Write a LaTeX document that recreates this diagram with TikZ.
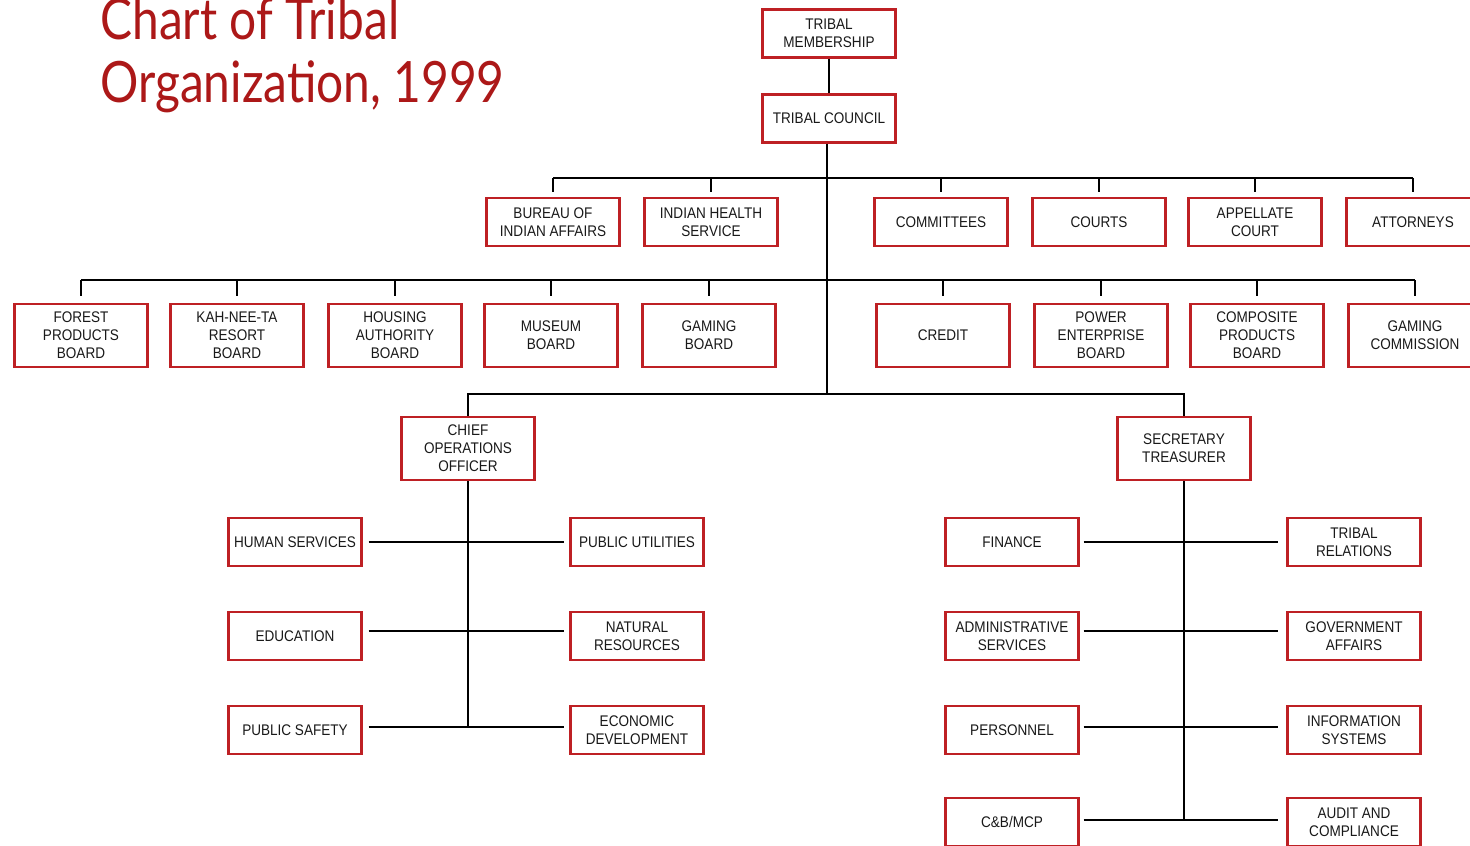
\documentclass[tikz,border=0pt]{standalone}
\usepackage{fontspec}
\setmainfont{Liberation Sans}[FakeStretch = 0.88]
\newfontfamily\titlefont{Lato}[FakeStretch = 0.84]
\definecolor{boxred}{RGB}{190,32,36}
\definecolor{titlered}{RGB}{172,24,24}

\begin{document}
\begin{tikzpicture} [x = 0.5pt, y = -0.5pt,
  unit/.style = {draw = boxred, line width = 1.2pt, fill = white, align = center, inner sep = 0pt,
    minimum width = 66.5pt, minimum height = 24pt, font = \fontsize{7.7}{9}\selectfont, text = black!90},
  tall/.style = {unit, minimum height = 31.5pt},
  link/.style = {line width = 1.3pt},
  heading/.style = {anchor = base west, inner sep = 0pt, text = titlered, font = \titlefont\fontsize{28.5}{30}\selectfont}]
\useasboundingbox (0,0) rectangle (1470,845);
\clip (0,0) rectangle (1470,845);

\node(t1) [heading] at (100,40) {Chart of Tribal};
\node(t2) [heading] at (100,103) {Organization, 1999};

\node(tm) [unit] at (829,33.5) {TRIBAL\\MEMBERSHIP};
\node(tc) [unit] at (829,118.5) {TRIBAL COUNCIL};

\node(bia) [unit] at (553,222) {BUREAU OF\\INDIAN AFFAIRS};
\node(ihs) [unit] at (711,222) {INDIAN HEALTH\\SERVICE};
\node(com) [unit] at (941,222) {COMMITTEES};
\node(crt) [unit] at (1099,222) {COURTS};
\node(app) [unit] at (1255,222) {APPELLATE\\COURT};
\node(att) [unit] at (1413,222) {ATTORNEYS};

\node(fpb) [tall] at (81,335.5) {FOREST\\PRODUCTS\\BOARD};
\node(knt) [tall] at (237,335.5) {KAH-NEE-TA\\RESORT\\BOARD};
\node(hab) [tall] at (395,335.5) {HOUSING\\AUTHORITY\\BOARD};
\node(mus) [tall] at (551,335.5) {MUSEUM\\BOARD};
\node(gmb) [tall] at (709,335.5) {GAMING\\BOARD};
\node(cre) [tall] at (943,335.5) {CREDIT};
\node(pow) [tall] at (1101,335.5) {POWER\\ENTERPRISE\\BOARD};
\node(cpb) [tall] at (1257,335.5) {COMPOSITE\\PRODUCTS\\BOARD};
\node(gmc) [tall] at (1415,335.5) {GAMING\\COMMISSION};

\node(coo) [tall] at (468,448.5) {CHIEF\\OPERATIONS\\OFFICER};
\node(st) [tall] at (1184,448.5) {SECRETARY\\TREASURER};

\node(hs) [unit] at (295,542) {HUMAN SERVICES};
\node(edu) [unit] at (295,636) {EDUCATION};
\node(ps) [unit] at (295,730) {PUBLIC SAFETY};
\node(pu) [unit] at (637,542) {PUBLIC UTILITIES};
\node(nr) [unit] at (637,636) {NATURAL\\RESOURCES};
\node(ed) [unit] at (637,730) {ECONOMIC\\DEVELOPMENT};

\node(fin) [unit] at (1012,542) {FINANCE};
\node(adm) [unit] at (1012,636) {ADMINISTRATIVE\\SERVICES};
\node(per) [unit] at (1012,730) {PERSONNEL};
\node(cbm) [unit] at (1012,822) {C\&B/MCP};
\node(tr) [unit] at (1354,542) {TRIBAL\\RELATIONS};
\node(ga) [unit] at (1354,636) {GOVERNMENT\\AFFAIRS};
\node(is) [unit] at (1354,730) {INFORMATION\\SYSTEMS};
\node(ac) [unit] at (1354,822) {AUDIT AND\\COMPLIANCE};

\coordinate(bar1) at (827,178);
\coordinate(bar2) at (827,280);
\coordinate(bar3) at (827,394);
\coordinate(psl) at ([yshift = 1.5pt]ps.east);
\coordinate(cbl) at ([yshift = 1pt]cbm.east);

\draw [link] (tm.south) -- (tc.north);
\draw [link] (tc.south -| bar3) -- (bar3);
\draw [link] (bia.north |- bar1) -- (att.north |- bar1);
\foreach \n in {bia, ihs, com, crt, app, att}
  \draw [link, shorten >= 2.5pt] (\n.north |- bar1) -- (\n.north);
\draw [link] (fpb.north |- bar2) -- (gmc.north |- bar2);
\foreach \n in {fpb, knt, hab, mus, gmb, cre, pow, cpb, gmc}
  \draw [link, shorten >= 3.5pt] (\n.north |- bar2) -- (\n.north);
\draw [link] (coo.north) -- (coo.north |- bar3) -- (st.north |- bar3) -- (st.north);

\draw [link] (coo.south) -- (coo.south |- psl);
\draw [link, shorten <= 3pt, shorten >= 2.5pt] (hs.east) -- (pu.west);
\draw [link, shorten <= 3pt, shorten >= 2.5pt] ([yshift = 2.5pt]edu.east) -- ([yshift = 2.5pt]nr.west);
\draw [link, shorten <= 3pt, shorten >= 2.5pt] (psl) -- ([yshift = 1.5pt]ed.west);

\draw [link] (st.south) -- (st.south |- cbl);
\draw [link, shorten <= 2pt, shorten >= 4pt] (fin.east) -- (tr.west);
\draw [link, shorten <= 2pt, shorten >= 4pt] ([yshift = 2.5pt]adm.east) -- ([yshift = 2.5pt]ga.west);
\draw [link, shorten <= 2pt, shorten >= 4pt] ([yshift = 1.5pt]per.east) -- ([yshift = 1.5pt]is.west);
\draw [link, shorten <= 2pt, shorten >= 4pt] (cbl) -- ([yshift = 1pt]ac.west);
\end{tikzpicture}
\end{document}
